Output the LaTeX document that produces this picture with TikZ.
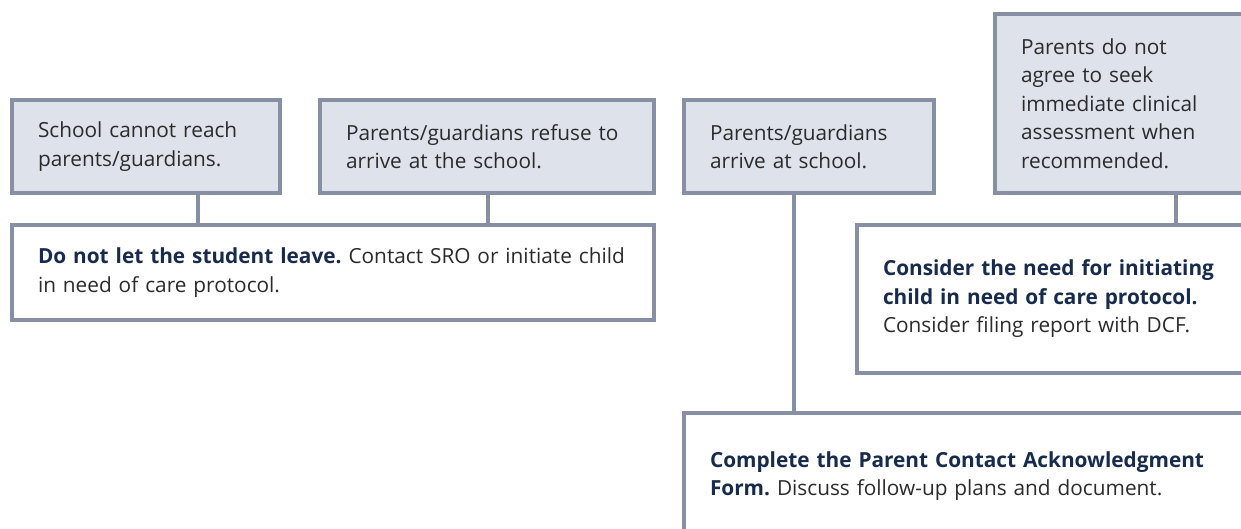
\documentclass[tikz,border=0pt]{standalone}
\usepackage{fontspec}
\setmainfont{Open Sans}
\definecolor{condfill}{HTML}{DDE2EB}
\definecolor{edgegray}{HTML}{878FA5}
\definecolor{headblue}{HTML}{172B4D}
\definecolor{bodytext}{HTML}{2B2B2B}
\newcommand{\lead}[1]{\textbf{\color{headblue}#1}}
\frenchspacing
\tikzset{
  cond/.style={draw=edgegray, fill=condfill, line width=4pt, anchor=north west,
    align=left, inner xsep=26pt, inner ysep=0pt, text=bodytext,
    font=\fontsize{20.8}{28.5}\selectfont},
  act/.style={cond, fill=white},
  link/.style={draw=edgegray, line width=4pt}
}

\begin{document}
\begin{tikzpicture}[x=1pt, y=-1pt]
    \useasboundingbox (0,0) rectangle (1241,529);
    \clip (0,0) rectangle (1241,529);
    % conditions
    \node[cond, text width=216pt, minimum height=93pt] (noreach) at (10,98)
      {School cannot reach\\parents/guardians.};
    \node[cond, text width=282pt, minimum height=93pt] (refuse) at (318,98)
      {\mbox{Parents/guardians refuse to}\\arrive at the school.};
    \node[cond, text width=198pt, minimum height=93pt] (arrive) at (682,98)
      {Parents/guardians\\arrive at school.};
    \node[cond, text width=225pt, minimum height=179pt] (disagree) at (993,12)
      {Parents do not\\agree to seek\\immediate clinical\\assessment when\\recommended.};
    % actions
    \node[act, text width=590pt, minimum height=95pt] (keep) at (10,223)
      {\mbox{\lead{Do not let the student leave.} Contact SRO or initiate child}\\in need of care protocol.};
    \node[act, text width=363pt, minimum height=148pt] (care) at (855,223)
      {\lead{Consider the need for initiating}\\\lead{child in need of care protocol.}\\Consider filing report with DCF.};
    \node[act, text width=536pt, minimum height=126pt] (form) at (682,411)
      {\lead{Complete the Parent Contact Acknowledgment}\\\lead{Form.} Discuss follow-up plans and document.};
    % links
    \draw[link] ([xshift=52pt]noreach.south) -- ([xshift=52pt]noreach.south |- keep.north);
    \draw[link] ([xshift=1pt]refuse.south) -- ([xshift=1pt]refuse.south |- keep.north);
    \draw[link] ([xshift=-15pt]arrive.south) -- ([xshift=-15pt]arrive.south |- form.north);
    \draw[link] ([xshift=182.5pt]disagree.south west) -- ([xshift=182.5pt]disagree.south west |- care.north);
\end{tikzpicture}
\end{document}
